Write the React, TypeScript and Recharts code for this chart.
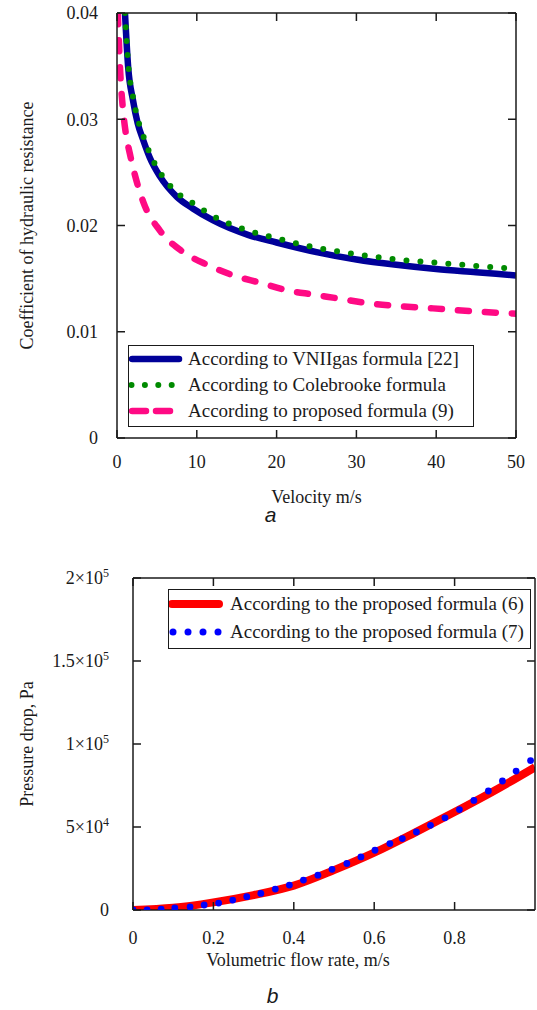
import { LineChart, Line, XAxis, YAxis, Legend, Label } from "recharts";

const SERIF = "'Liberation Serif', 'Times New Roman', serif";
const INK = "#1a1a1a";

// ---- panel a: friction coefficient vs velocity ----
const VNII_V = [1.0, 1.4, 2.0, 2.6, 3.3, 4.1, 5.4, 7.5, 9.5, 12, 16.5, 20, 25, 30, 35, 40, 45, 50];
const VNII_F = [0.04, 0.0349, 0.0318, 0.0296, 0.028, 0.0264, 0.0246, 0.0227, 0.0216, 0.0205, 0.0191, 0.0184, 0.0175, 0.0168, 0.0163, 0.0159, 0.0156, 0.0153];

const COLE_V = [1.0, 1.4, 2.0, 2.6, 3.3, 4.1, 5.4, 7.5, 9.5, 12, 16.5, 20, 25, 30, 35, 40, 45, 50];
const COLE_F = [0.04, 0.0352, 0.0321, 0.03, 0.0284, 0.0268, 0.025, 0.0231, 0.0221, 0.0209, 0.0195, 0.0188, 0.0179, 0.0173, 0.0168, 0.0165, 0.0162, 0.0159];

const PROP_V = [0.1, 0.4, 0.75, 1.1, 1.6, 2.3, 3.3, 5.4, 8.3, 11.3, 14.6, 18, 21.3, 24.6, 28, 31.3, 35.5, 39.6, 45, 50];
const PROP_F = [0.04, 0.0345, 0.0309, 0.0287, 0.0268, 0.0246, 0.0222, 0.0195, 0.0175, 0.0163, 0.0153, 0.0146, 0.0139, 0.0135, 0.0131, 0.0127, 0.0124, 0.0122, 0.0119, 0.0117];

const A_XTICKS = [0, 10, 20, 30, 40, 50];
const A_YTICKS = [0, 0.01, 0.02, 0.03, 0.04];

// ---- panel b: pressure drop vs flow rate ----
const F6_Q = [0, 0.1, 0.2, 0.3, 0.4, 0.5, 0.6, 0.7, 0.8, 0.9, 1.0];
const F6_DP = [0, 1300, 4600, 9000, 14700, 24000, 34500, 46500, 59000, 72000, 86000];

const F7_Q = [0, 0.035, 0.07, 0.104, 0.142, 0.177, 0.213, 0.248, 0.283, 0.318, 0.354, 0.389, 0.424, 0.46, 0.495, 0.532, 0.567, 0.602, 0.639, 0.67, 0.705, 0.74, 0.776, 0.812, 0.848, 0.884, 0.919, 0.953, 0.989];
const F7_DP = [0, 100, 500, 1200, 1800, 3000, 4200, 6000, 8000, 10000, 12600, 15000, 18000, 21000, 24500, 28000, 32000, 36000, 40000, 43000, 47000, 51000, 55500, 60500, 66000, 71700, 77700, 83700, 90000];

const B_XTICKS = [0, 0.2, 0.4, 0.6, 0.8];
const B_YTICKS = [0, 50000, 100000, 150000, 200000];
const B_YLABELS = ["0", "5×10", "1×10", "1.5×10", "2×10"];
const B_YEXP = ["", "4", "5", "5", "5"];

const zipA = (v: number[], f: number[]) => v.map((x, i) => ({ v: x, f: f[i] }));
const zipB = (q: number[], p: number[]) => q.map((x, i) => ({ q: x, p: p[i] }));

const vnii = zipA(VNII_V, VNII_F);
const cole = zipA(COLE_V, COLE_F);
const prop = zipA(PROP_V, PROP_F);
const f6 = zipB(F6_Q, F6_DP);
const f7 = zipB(F7_Q, F7_DP);

const axisLine = { stroke: INK, strokeWidth: 1.5 };
const TICK = 8; // inward tick length

// ticks drawn by hand: inward mark on this side and the mirrored side, plus serif label.
// m = tick margin, span = plot height / width (to reach the opposite frame edge)
function BottomTick(props: any) {
  const { x, y, payload, m, span } = props;
  const v = payload.value as number;
  const txt = v === 0 ? "0" : Number.isInteger(v) ? String(v) : v.toFixed(1);
  const base = y - m;
  return (
    <g>
      <line x1={x} x2={x} y1={base} y2={base - TICK} stroke={INK} strokeWidth={1.5} />
      <line x1={x} x2={x} y1={base - span} y2={base - span + TICK} stroke={INK} strokeWidth={1.5} />
      <text x={x} y={y} dy="0.71em" textAnchor="middle" fontFamily={SERIF} fontSize={18} fill={INK}>
        {txt}
      </text>
    </g>
  );
}

function LeftTick(props: any) {
  const { x, y, index, payload, m, span, power } = props;
  const v = payload.value as number;
  const base = x + m;
  return (
    <g>
      <line x1={base} x2={base + TICK} y1={y} y2={y} stroke={INK} strokeWidth={1.5} />
      <line x1={base + span} x2={base + span - TICK} y1={y} y2={y} stroke={INK} strokeWidth={1.5} />
      <text x={x} y={y} dy="0.35em" textAnchor="end" fontFamily={SERIF} fontSize={18} fill={INK}>
        {power ? B_YLABELS[index] : v === 0 ? "0" : v.toFixed(2)}
        {power && B_YEXP[index] && (
          <tspan dy={-7} fontSize={12}>
            {B_YEXP[index]}
          </tspan>
        )}
      </text>
    </g>
  );
}

type Item = { label: string; color: string; kind: "solid" | "dots" | "dash" | "bigdots"; width: number };

function Sample({ it }: { it: Item }) {
  if (it.kind === "bigdots") {
    return (
      <svg width={56} height={12}>
        {[0, 1, 2, 3].map((i) => (
          <circle key={i} cx={4 + i * 15} cy={6} r={3.5} fill={it.color} />
        ))}
      </svg>
    );
  }
  const dash = it.kind === "dots" ? "0 13.4" : it.kind === "dash" ? "14 10" : undefined;
  return (
    <svg width={56} height={12}>
      <line
        x1={it.kind === "dots" ? 2.5 : 3}
        x2={it.kind === "dots" ? 45 : 50}
        y1={6}
        y2={6}
        stroke={it.color}
        strokeWidth={it.width}
        strokeLinecap="round"
        strokeDasharray={dash}
      />
    </svg>
  );
}

function LegendBox({ items, width, rowH, textGap }: { items: Item[]; width: number; rowH: number; textGap: number }) {
  return (
    <div
      style={{
        width,
        height: items.length * rowH + 4,
        boxSizing: "border-box",
        border: `1.5px solid ${INK}`,
        background: "#fff",
        fontFamily: SERIF,
        fontSize: 19,
        color: INK,
      }}
    >
      {items.map((it) => (
        <div key={it.label} style={{ height: rowH, display: "flex", alignItems: "center" }}>
          <Sample it={it} />
          <span style={{ marginLeft: textGap, whiteSpace: "nowrap" }}>{it.label}</span>
        </div>
      ))}
    </div>
  );
}

const LEGEND_A: Item[] = [
  { label: "According to VNIIgas formula [22]", color: "#000099", kind: "solid", width: 6.5 },
  { label: "According to Colebrooke formula", color: "#008a00", kind: "dots", width: 6 },
  { label: "According to proposed formula (9)", color: "#ff0a84", kind: "dash", width: 6.5 },
];

const LEGEND_B: Item[] = [
  { label: "According to the proposed formula (6)", color: "#ff0000", kind: "solid", width: 8 },
  { label: "According to the proposed formula (7)", color: "#0000ff", kind: "bigdots", width: 6 },
];

const labelStyle = { fontFamily: SERIF, fontSize: 18, fill: INK };

function PanelA() {
  return (
    <LineChart width={537} height={508} margin={{ top: 12, right: 20, bottom: 0, left: 0 }}>
      <XAxis
        xAxisId="b"
        type="number"
        dataKey="v"
        domain={[0, 50]}
        ticks={A_XTICKS}
        allowDataOverflow
        height={70}
        axisLine={axisLine}
        tickLine={false}
        tickSize={0}
        tickMargin={17}
        tick={<BottomTick m={17} span={425} />}
        interval={0}
      >
        <Label value="Velocity m/s" position="insideBottom" offset={5} style={labelStyle} />
      </XAxis>
      <XAxis xAxisId="t" orientation="top" type="number" dataKey="v" domain={[0, 50]} height={1} axisLine={axisLine} tickLine={false} tick={false} />
      <YAxis
        yAxisId="l"
        type="number"
        domain={[0, 0.04]}
        ticks={A_YTICKS}
        allowDataOverflow
        width={117}
        axisLine={axisLine}
        tickLine={false}
        tickSize={0}
        tickMargin={19}
        tick={<LeftTick m={19} span={399} />}
        interval={0}
      >
        <Label
          value="Coefficient of hydraulic resistance"
          angle={-90}
          position="insideLeft"
          offset={27}
          style={{ ...labelStyle, textAnchor: "middle" }}
        />
      </YAxis>
      <YAxis yAxisId="r" orientation="right" type="number" domain={[0, 0.04]} width={1} axisLine={axisLine} tickLine={false} tick={false} />
      <Line xAxisId="b" yAxisId="l" data={vnii} dataKey="f" type="monotone" stroke="#000099" strokeWidth={6.5} dot={false} activeDot={false} isAnimationActive={false} />
      <Line
        xAxisId="b"
        yAxisId="l"
        data={cole}
        dataKey="f"
        type="monotone"
        stroke="#008a00"
        strokeWidth={6}
        strokeDasharray="0 14"
        strokeLinecap="round"
        dot={false}
        activeDot={false}
        isAnimationActive={false}
      />
      <Line
        xAxisId="b"
        yAxisId="l"
        data={prop}
        dataKey="f"
        type="monotone"
        stroke="#ff0a84"
        strokeWidth={6.5}
        strokeDasharray="11 16"
        strokeLinecap="round"
        dot={false}
        activeDot={false}
        isAnimationActive={false}
      />
      <Legend
        layout="vertical"
        align="center"
        verticalAlign="middle"
        wrapperStyle={{ left: 128, top: 345, width: 346 }}
        content={() => <LegendBox items={LEGEND_A} width={346} rowH={26} textGap={3} />}
      />
    </LineChart>
  );
}

function PanelB() {
  return (
    <LineChart width={537} height={430} margin={{ top: 37, right: 1, bottom: 0, left: 0 }}>
      <XAxis
        xAxisId="b"
        type="number"
        dataKey="q"
        domain={[0, 1]}
        ticks={B_XTICKS}
        allowDataOverflow
        height={60}
        axisLine={axisLine}
        tickLine={false}
        tickSize={0}
        tickMargin={21}
        tick={<BottomTick m={21} span={332} />}
        interval={0}
      >
        <Label value="Volumetric flow rate, m/s" position="insideBottom" offset={4} dx={-36} style={labelStyle} />
      </XAxis>
      <XAxis xAxisId="t" orientation="top" type="number" dataKey="q" domain={[0, 1]} height={1} axisLine={axisLine} tickLine={false} tick={false} />
      <YAxis
        yAxisId="l"
        type="number"
        domain={[0, 200000]}
        ticks={B_YTICKS}
        allowDataOverflow
        width={133}
        axisLine={axisLine}
        tickLine={false}
        tickSize={0}
        tickMargin={24}
        tick={<LeftTick m={24} span={402} power />}
        interval={0}
      >
        <Label
          value="Pressure drop, Pa"
          angle={-90}
          position="insideLeft"
          offset={27}
          style={{ ...labelStyle, textAnchor: "middle" }}
        />
      </YAxis>
      <YAxis yAxisId="r" orientation="right" type="number" domain={[0, 200000]} width={1} axisLine={axisLine} tickLine={false} tick={false} />
      <Line xAxisId="b" yAxisId="l" data={f6} dataKey="p" type="monotone" stroke="#ff0000" strokeWidth={8} dot={false} activeDot={false} isAnimationActive={false} />
      <Line
        xAxisId="b"
        yAxisId="l"
        data={f7}
        dataKey="p"
        type="monotone"
        stroke="none"
        dot={{ r: 3.4, fill: "#0000ff", stroke: "none" }}
        activeDot={false}
        isAnimationActive={false}
      />
      <Legend
        layout="vertical"
        align="center"
        verticalAlign="middle"
        wrapperStyle={{ left: 168, top: 49, width: 363 }}
        content={() => <LegendBox items={LEGEND_B} width={363} rowH={28} textGap={5} />}
      />
    </LineChart>
  );
}

const panelLabel = {
  position: "absolute" as const,
  width: 537,
  textAlign: "center" as const,
  fontFamily: "'Liberation Sans', Arial, sans-serif",
  fontStyle: "italic",
  fontSize: 21,
  color: INK,
};

export default function App() {
  return (
    <div style={{ position: "absolute", left: 0, top: 0, width: 537, height: 1010, background: "#fff", overflow: "hidden" }}>
      <div style={{ position: "absolute", left: 0, top: 0 }}>
        <PanelA />
      </div>
      <div style={{ ...panelLabel, left: 2, top: 503 }}>a</div>
      <div style={{ position: "absolute", left: 0, top: 540 }}>
        <PanelB />
      </div>
      <div style={{ ...panelLabel, left: 4, top: 984 }}>b</div>
    </div>
  );
}
